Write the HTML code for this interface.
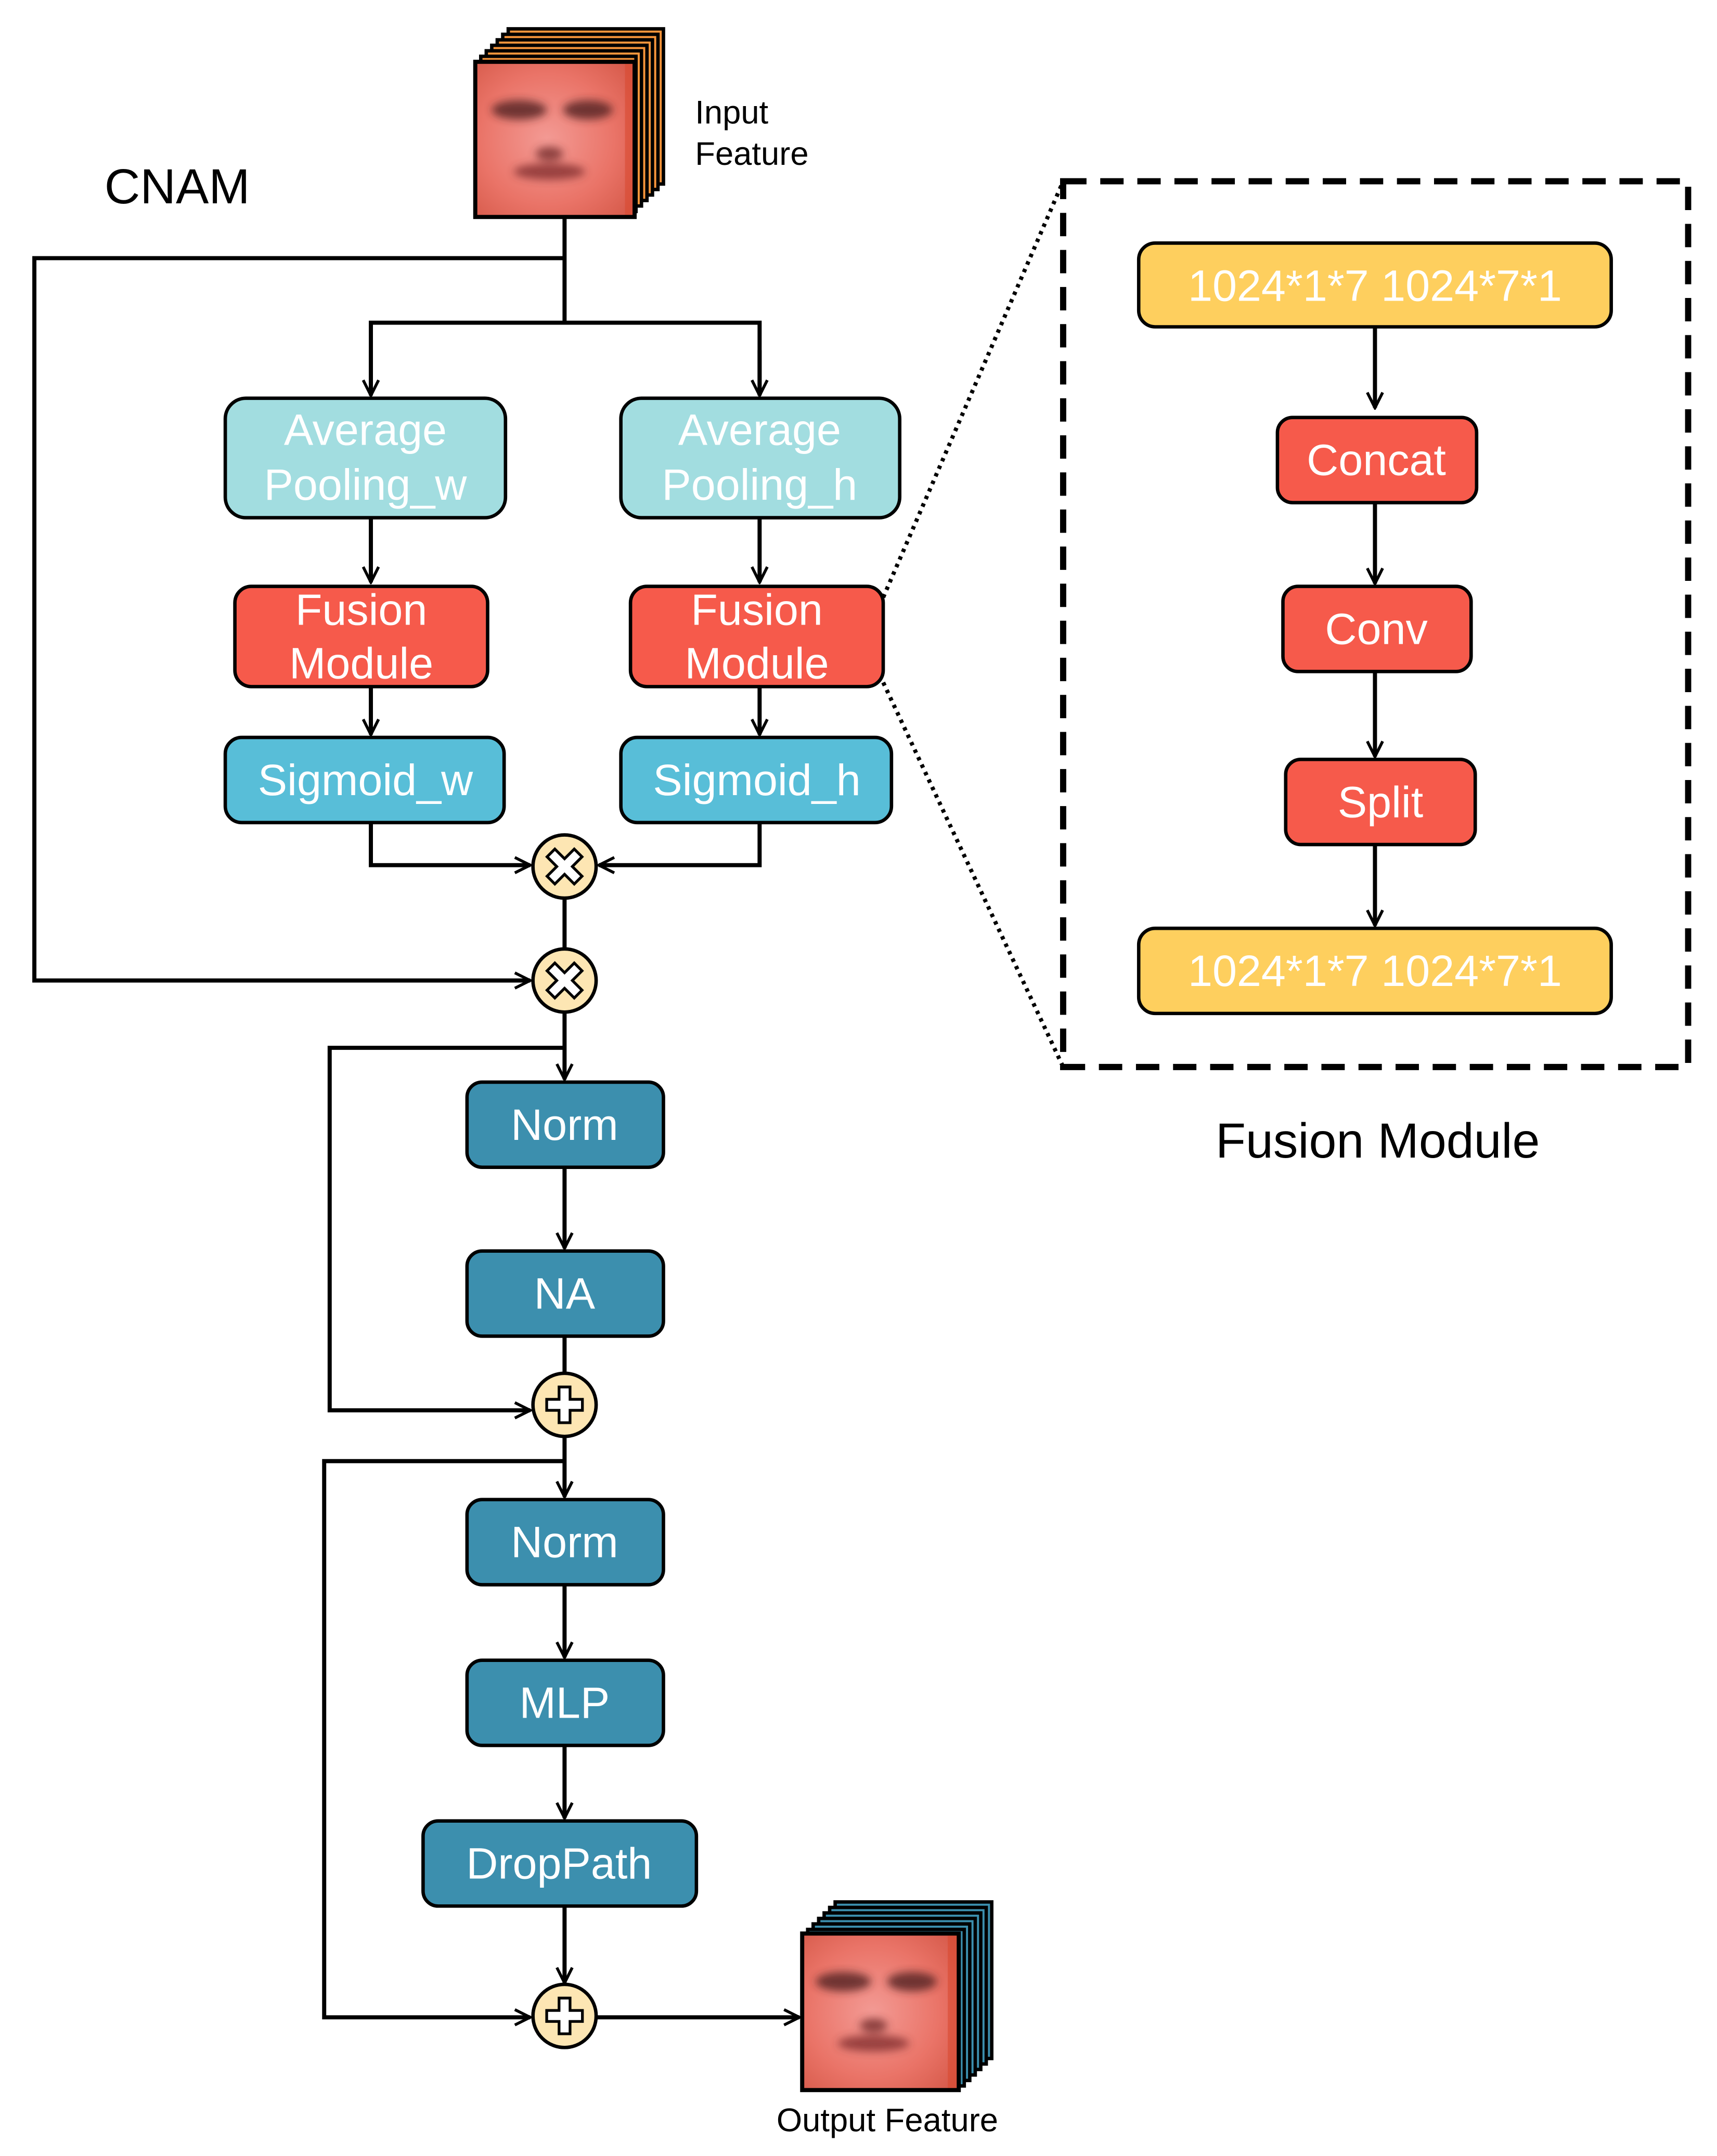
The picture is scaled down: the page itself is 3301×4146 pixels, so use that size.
<!DOCTYPE html>
<html><head><meta charset="utf-8"><style>html,body{margin:0;padding:0;background:#fff}svg{display:block}</style></head>
<body>
<svg xmlns="http://www.w3.org/2000/svg" width="3301" height="4146" viewBox="0 0 1250 1570" font-family="'Liberation Sans', Arial, sans-serif">
<defs>
<marker id="ar" viewBox="0 0 20 20" refX="18" refY="10" markerWidth="14" markerHeight="14" markerUnits="userSpaceOnUse" orient="auto">
<path d="M2,2 L18,10 L2,18" fill="none" stroke="#000" stroke-width="3"/>
</marker>
<radialGradient id="skin" cx="0.45" cy="0.5" r="0.7">
<stop offset="0" stop-color="#f39a94"/><stop offset="0.6" stop-color="#ea7468"/><stop offset="1" stop-color="#d65a4a"/>
</radialGradient>
<filter id="bl"><feGaussianBlur stdDeviation="3"/></filter>
<clipPath id="c1"><rect x="346" y="45" width="116" height="113"/></clipPath>
<clipPath id="c2"><rect x="584" y="1408" width="114" height="114"/></clipPath>
</defs>
<rect width="1250" height="1570" fill="#fff"/>

<!-- input stack -->
<g stroke="#000" stroke-width="2.5" fill="#f7953b">
<rect x="370" y="21" width="113" height="113"/>
<rect x="366" y="25" width="113" height="113"/>
<rect x="362" y="29" width="113" height="113"/>
<rect x="358" y="33" width="113" height="113"/>
<rect x="354" y="37" width="113" height="113"/>
<rect x="350" y="41" width="113" height="113"/>
</g>
<g clip-path="url(#c1)">
<rect x="346" y="45" width="116" height="113" fill="url(#skin)"/>
<g filter="url(#bl)" fill="#5a2525" opacity="0.85">
<ellipse cx="378" cy="80" rx="20" ry="7"/><ellipse cx="428" cy="80" rx="18" ry="7"/>
<ellipse cx="400" cy="125" rx="26" ry="6" fill="#8a3535"/>
<ellipse cx="400" cy="112" rx="10" ry="5" fill="#7a3030"/>
</g>
<rect x="455" y="45" width="8" height="113" fill="#d84a30" opacity="0.6"/>
</g>
<rect x="346" y="45" width="116" height="113" fill="none" stroke="#000" stroke-width="3"/>
<text x="506" y="90" font-size="24">Input</text>
<text x="506" y="120" font-size="24">Feature</text>
<text x="76" y="148" font-size="36">CNAM</text>

<!-- connectors -->
<g stroke="#000" stroke-width="3" fill="none">
<path d="M411,158 V235"/>
<path d="M411,188 H25 V714 H386" marker-end="url(#ar)"/>
<path d="M270,288 V235 H553 V288" />
<path d="M270,255 V288" marker-end="url(#ar)"/>
<path d="M553,255 V288" marker-end="url(#ar)"/>
<path d="M270,377 V424" marker-end="url(#ar)"/>
<path d="M553,377 V424" marker-end="url(#ar)"/>
<path d="M270,500 V535" marker-end="url(#ar)"/>
<path d="M553,500 V535" marker-end="url(#ar)"/>
<path d="M270,599 V630 H386" marker-end="url(#ar)"/>
<path d="M553,599 V630 H436" marker-end="url(#ar)"/>
<path d="M411,654 V691"/>
<path d="M411,737 V786" marker-end="url(#ar)"/>
<path d="M411,763 H240 V1027 H386" marker-end="url(#ar)"/>
<path d="M411,850 V909" marker-end="url(#ar)"/>
<path d="M411,973 V1000"/>
<path d="M411,1046 V1090" marker-end="url(#ar)"/>
<path d="M411,1064 H236 V1469 H386" marker-end="url(#ar)"/>
<path d="M411,1154 V1207" marker-end="url(#ar)"/>
<path d="M411,1271 V1324" marker-end="url(#ar)"/>
<path d="M411,1388 V1444" marker-end="url(#ar)"/>
<path d="M435,1469 H582" marker-end="url(#ar)"/>
<path d="M1001,238 V297" marker-end="url(#ar)"/>
<path d="M1001,366 V425" marker-end="url(#ar)"/>
<path d="M1001,489 V551" marker-end="url(#ar)"/>
<path d="M1001,615 V674" marker-end="url(#ar)"/>
</g>
<g stroke="#000" stroke-width="3" fill="none" stroke-dasharray="2.5 3.5">
<path d="M643,435 L774,132"/><path d="M643,497 L774,777"/>
</g>
<rect x="774" y="132" width="455" height="645" fill="none" stroke="#000" stroke-width="4.5" stroke-dasharray="17 10"/>

<!-- boxes -->
<g stroke="#000" stroke-width="2.5">
<rect x="164" y="290" width="204" height="87" rx="15" fill="#a2dde0"/>
<rect x="452" y="290" width="203" height="87" rx="15" fill="#a2dde0"/>
<rect x="171" y="427" width="184" height="73" rx="12" fill="#f65a4b"/>
<rect x="459" y="427" width="184" height="73" rx="12" fill="#f65a4b"/>
<rect x="164" y="537" width="203" height="62" rx="12" fill="#58bed8"/>
<rect x="452" y="537" width="197" height="62" rx="12" fill="#58bed8"/>
<rect x="340" y="788" width="143" height="62" rx="11" fill="#3c8fae"/>
<rect x="340" y="911" width="143" height="62" rx="11" fill="#3c8fae"/>
<rect x="340" y="1092" width="143" height="62" rx="11" fill="#3c8fae"/>
<rect x="340" y="1209" width="143" height="62" rx="11" fill="#3c8fae"/>
<rect x="308" y="1326" width="199" height="62" rx="11" fill="#3c8fae"/>
<rect x="829" y="177" width="344" height="61" rx="12" fill="#fecf5e"/>
<rect x="930" y="304" width="145" height="62" rx="11" fill="#f65a4b"/>
<rect x="934" y="427" width="137" height="62" rx="11" fill="#f65a4b"/>
<rect x="936" y="553" width="138" height="62" rx="11" fill="#f65a4b"/>
<rect x="829" y="676" width="344" height="62" rx="12" fill="#fecf5e"/>
</g>
<g fill="#fff" font-size="32" text-anchor="middle">
<text x="266" y="324">Average</text><text x="266" y="364">Pooling_w</text>
<text x="553" y="324">Average</text><text x="553" y="364">Pooling_h</text>
<text x="263" y="455">Fusion</text><text x="263" y="494">Module</text>
<text x="551" y="455">Fusion</text><text x="551" y="494">Module</text>
<text x="266" y="579">Sigmoid_w</text><text x="551" y="579">Sigmoid_h</text>
<text x="411" y="830">Norm</text><text x="411" y="953">NA</text>
<text x="411" y="1134">Norm</text><text x="411" y="1251">MLP</text>
<text x="407" y="1368">DropPath</text>
<text x="1001" y="219">1024*1*7 1024*7*1</text>
<text x="1002" y="346">Concat</text>
<text x="1002" y="469">Conv</text>
<text x="1005" y="595">Split</text>
<text x="1001" y="718">1024*1*7 1024*7*1</text>
</g>
<text x="1003" y="843" font-size="36" text-anchor="middle">Fusion Module</text>

<!-- operators -->
<g stroke="#000" stroke-width="2.5">
<circle cx="411" cy="631" r="23" fill="#fde6b3"/>
<circle cx="411" cy="714" r="23" fill="#fde6b3"/>
<circle cx="411" cy="1023" r="23" fill="#fde6b3"/>
<circle cx="411" cy="1468" r="23" fill="#fde6b3"/>
</g>
<g fill="#fff" stroke="#000" stroke-width="2">
<path transform="translate(411,631) rotate(45)" d="M-4,-14 H4 V-4 H14 V4 H4 V14 H-4 V4 H-14 V-4 H-4 Z"/>
<path transform="translate(411,714) rotate(45)" d="M-4,-14 H4 V-4 H14 V4 H4 V14 H-4 V4 H-14 V-4 H-4 Z"/>
<path transform="translate(411,1023)" d="M-4,-13 H4 V-4 H13 V4 H4 V13 H-4 V4 H-13 V-4 H-4 Z"/>
<path transform="translate(411,1468)" d="M-4,-13 H4 V-4 H13 V4 H4 V13 H-4 V4 H-13 V-4 H-4 Z"/>
</g>

<!-- output stack -->
<g stroke="#000" stroke-width="2.5" fill="#3c8fae">
<rect x="608" y="1385" width="114" height="114"/>
<rect x="604" y="1389" width="114" height="114"/>
<rect x="600" y="1393" width="114" height="114"/>
<rect x="596" y="1397" width="114" height="114"/>
<rect x="592" y="1401" width="114" height="114"/>
<rect x="588" y="1405" width="114" height="114"/>
</g>
<g clip-path="url(#c2)">
<rect x="584" y="1408" width="114" height="114" fill="url(#skin)"/>
<g filter="url(#bl)" fill="#5a2525" opacity="0.85">
<ellipse cx="614" cy="1443" rx="20" ry="7"/><ellipse cx="664" cy="1443" rx="18" ry="7"/>
<ellipse cx="636" cy="1488" rx="26" ry="6" fill="#8a3535"/>
<ellipse cx="636" cy="1475" rx="10" ry="5" fill="#7a3030"/>
</g>
<rect x="690" y="1408" width="8" height="114" fill="#d84a30" opacity="0.6"/>
</g>
<rect x="584" y="1408" width="114" height="114" fill="none" stroke="#000" stroke-width="3"/>
<text x="646" y="1552" font-size="24" text-anchor="middle">Output Feature</text>
</svg>
</body></html>
